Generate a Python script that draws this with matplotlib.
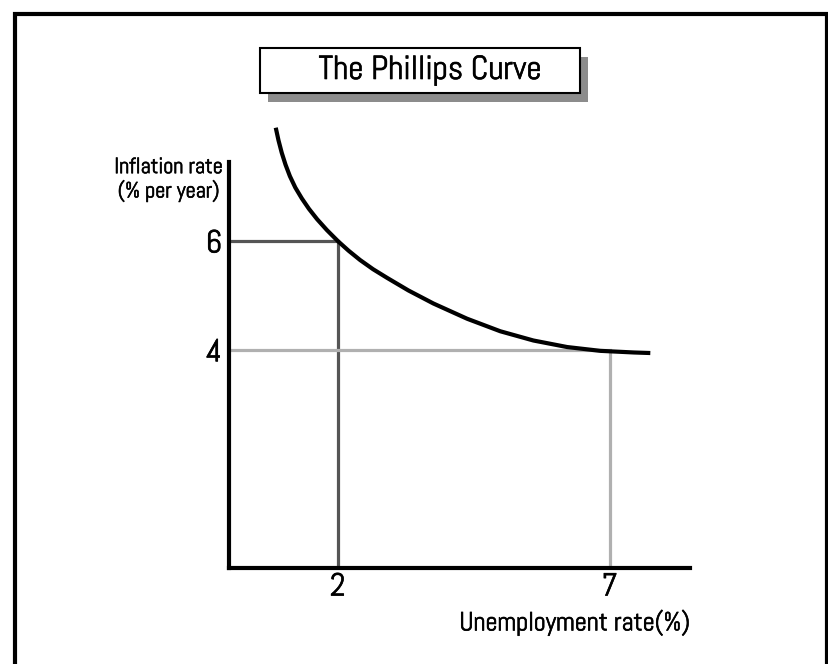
"""
The Phillips Curve: schematic inflation vs unemployment trade-off.
"""

import matplotlib.pyplot as plt
import matplotlib.patheffects as pe
from matplotlib.patches import Rectangle

# Curve (unemployment %, inflation %)
CURVE_X = [0.86, 0.91, 0.97, 1.04, 1.12, 1.22, 1.34, 1.47, 1.62, 1.80, 2.01,
           2.20, 2.41, 2.65, 2.91, 3.30, 3.76, 4.38, 4.99, 5.60, 6.22, 6.83,
           7.45, 7.75]
CURVE_Y = [8.09, 7.86, 7.63, 7.41, 7.20, 6.99, 6.79, 6.60, 6.41, 6.21, 6.00,
           5.83, 5.66, 5.49, 5.33, 5.10, 4.86, 4.58, 4.35, 4.18, 4.06, 3.99,
           3.96, 3.95]

# Marked points on the curve
POINT_U = [2, 7]
POINT_INF = [6, 4]
POINT_COLORS = ["#555555", "#b0b0b0"]

TITLE = "The Phillips Curve"
XLABEL = "Unemployment rate(%)"
YLABEL = "Inflation rate\n(% per year)"

FONT = ["Abel", "DejaVu Sans"]
# Abel is a bit thin next to the original lettering, so fatten it slightly
BOLDEN = [pe.withStroke(linewidth=0.45, foreground="black")]


def main():
    plt.rcParams["font.family"] = FONT
    W, H = 829, 664
    fig = plt.figure(figsize=(W / 100, H / 100), dpi=100)

    # outer frame (bottom edge runs off the picture)
    fig.patches.append(Rectangle((15 / W, -0.05), 812 / W, 1.05 - 14 / H,
                                 transform=fig.transFigure, fill=False,
                                 edgecolor="black", linewidth=3))

    # title box with drop shadow
    fig.patches.append(Rectangle((268 / W, 1 - 102 / H), 320 / W, 45 / H,
                                 transform=fig.transFigure, facecolor="#8c8c8c",
                                 edgecolor="none"))
    fig.patches.append(Rectangle((260 / W, 1 - 93 / H), 320 / W, 45 / H,
                                 transform=fig.transFigure, facecolor="white",
                                 edgecolor="black", linewidth=1.5))
    fig.text(430 / W, 1 - 71 / H, TITLE, ha="center", va="center", fontsize=24,
             path_effects=BOLDEN)

    ax = fig.add_axes([229 / W, 1 - 568 / H, 461 / W, 406 / H])
    ax.set_xlim(0, 8.48)
    ax.set_ylim(0, 7.46)

    for u, inf, c in zip(POINT_U, POINT_INF, POINT_COLORS):
        ax.plot([0, u, u], [inf, inf, 0], color=c, linewidth=2.3,
                solid_joinstyle="miter", zorder=2)

    ax.plot(CURVE_X, CURVE_Y, color="black", linewidth=3, clip_on=False,
            solid_capstyle="butt", solid_joinstyle="round", zorder=3)

    for side in ["top", "right"]:
        ax.spines[side].set_visible(False)
    for side in ["left", "bottom"]:
        ax.spines[side].set_linewidth(3)
    ax.patch.set_visible(False)

    ax.set_xticks(POINT_U)
    ax.set_xticklabels([str(u) for u in POINT_U])
    ax.set_yticks(POINT_INF)
    ax.set_yticklabels([str(v) for v in POINT_INF])
    ax.tick_params(length=0, labelsize=23)
    ax.tick_params(axis="x", pad=4)
    ax.tick_params(axis="y", pad=5)
    for lab in ax.get_xticklabels() + ax.get_yticklabels():
        lab.set_path_effects(BOLDEN)

    fig.text(575 / W, 1 - 623 / H, XLABEL, ha="center", va="center", fontsize=19,
             path_effects=BOLDEN)
    fig.text(223 / W, 1 - 180 / H, YLABEL, ha="right", va="center", fontsize=16,
             multialignment="center", linespacing=1.2, path_effects=BOLDEN)

    fig.savefig("out.png", dpi=100)
    plt.close(fig)


if __name__ == "__main__":
    main()
